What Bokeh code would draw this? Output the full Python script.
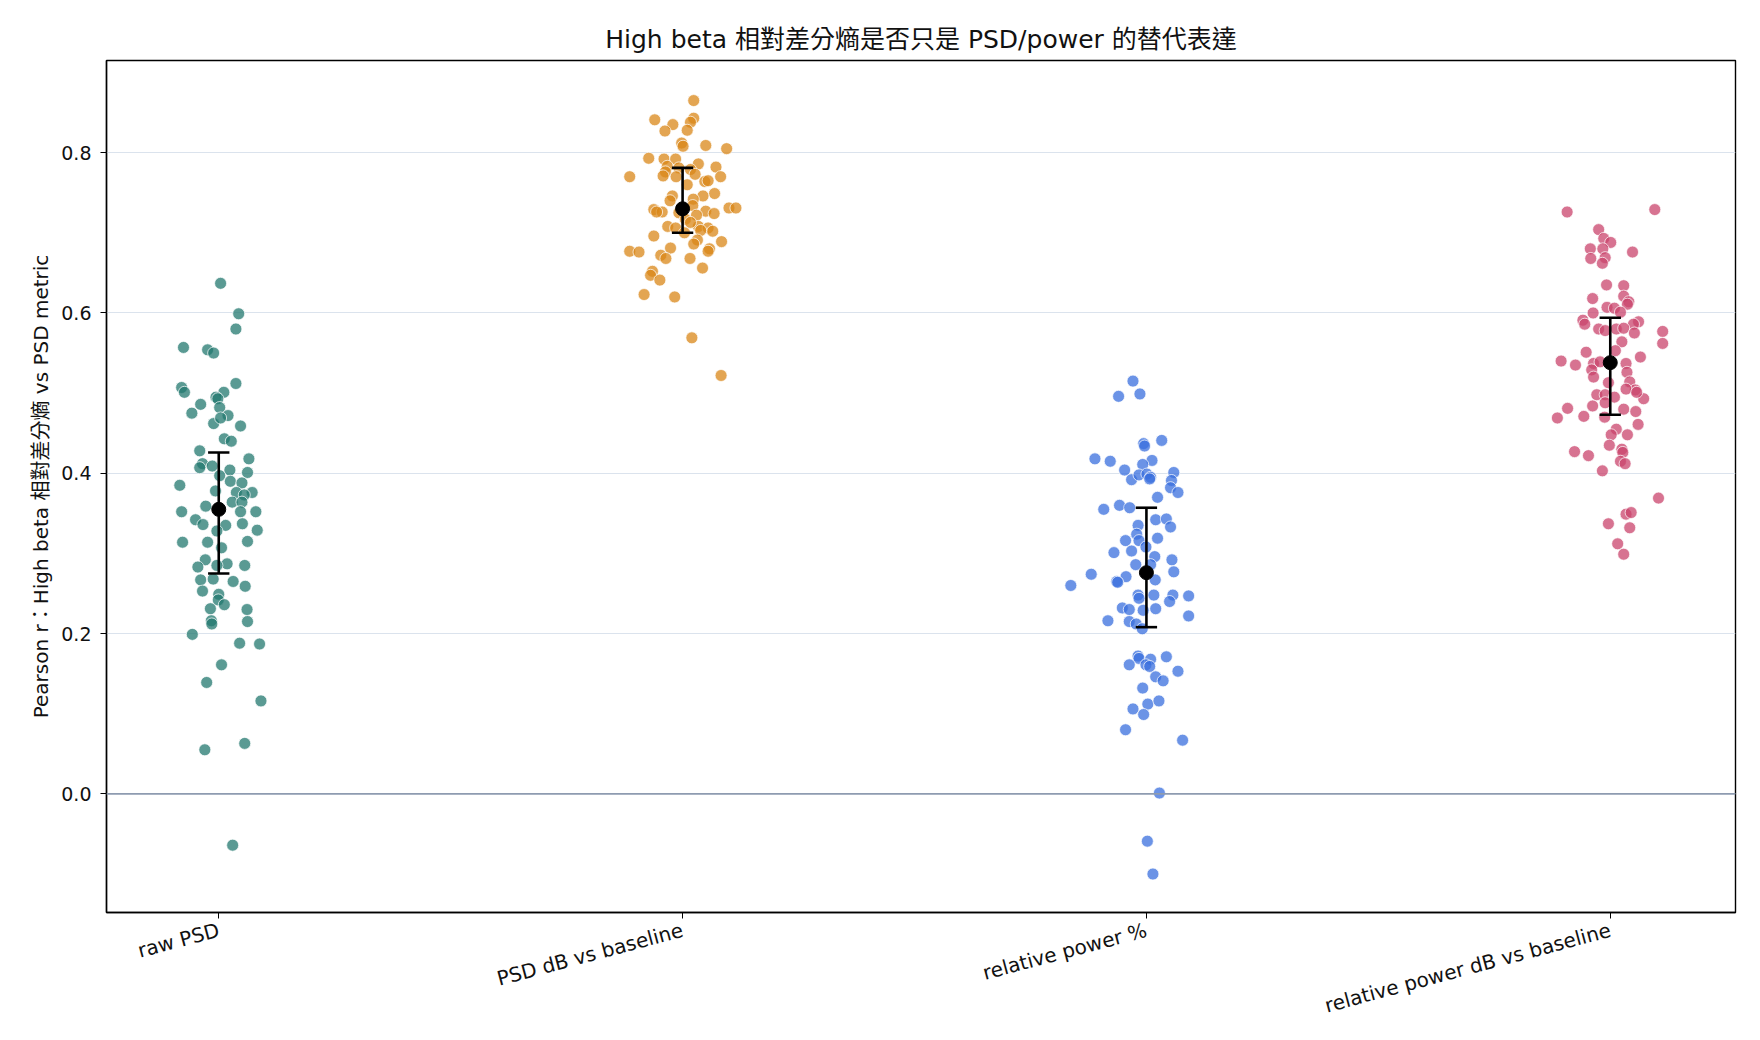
import math
from bokeh.plotting import figure
from bokeh.models import Range1d, FixedTicker, Span, ColumnDataSource, NumeralTickFormatter
from bokeh.embed import file_html
from bokeh.resources import INLINE

categories = ["raw PSD", "PSD dB vs baseline", "relative power %", "relative power dB vs baseline"]
colors = ["#23786f", "#da8718", "#3a6fde", "#ca446c"]

raw_psd_r = [0.637, 0.599, 0.580, 0.557, 0.554, 0.550, 0.512, 0.507, 0.501, 0.501, 0.495, 0.493,
             0.486, 0.482, 0.475, 0.472, 0.462, 0.459, 0.469, 0.443, 0.440, 0.428, 0.418, 0.412,
             0.407, 0.409, 0.401, 0.404, 0.397, 0.385, 0.390, 0.388, 0.376, 0.378, 0.376, 0.373,
             0.364, 0.364, 0.359, 0.352, 0.352, 0.352, 0.342, 0.336, 0.335, 0.337, 0.329, 0.328,
             0.314, 0.314, 0.315, 0.307, 0.292, 0.287, 0.283, 0.285, 0.285, 0.267, 0.268, 0.265,
             0.259, 0.253, 0.249, 0.242, 0.236, 0.231, 0.230, 0.216, 0.215, 0.212, 0.199, 0.188,
             0.187, 0.161, 0.139, 0.116, 0.063, 0.055, -0.064]
raw_psd_jit = [0.004, 0.043, 0.037, -0.076, -0.024, -0.011, 0.037, -0.080, -0.074, 0.011, -0.006, -0.002,
               -0.039, 0.002, -0.058, 0.020, -0.011, 0.047, 0.004, 0.012, 0.027, -0.041, 0.065, -0.035,
               -0.041, -0.014, 0.062, 0.024, 0.002, -0.084, 0.025, 0.050, 0.072, -0.007, 0.038, 0.055,
               0.029, 0.050, -0.028, 0.047, -0.080, 0.080, -0.050, -0.034, 0.015, 0.051, 0.083, -0.004,
               -0.078, -0.024, 0.062, 0.006, -0.029, 0.018, -0.045, 0.056, -0.004, -0.039, -0.012, 0.031,
               0.057, -0.035, 0.000, -0.001, 0.012, -0.018, 0.061, -0.016, 0.062, -0.015, -0.057, 0.045,
               0.088, 0.006, -0.026, 0.091, 0.056, -0.030, 0.030]

psd_db_r = [0.865, 0.841, 0.843, 0.835, 0.838, 0.827, 0.828, 0.812, 0.808, 0.809, 0.805, 0.793,
            0.792, 0.792, 0.786, 0.782, 0.783, 0.781, 0.779, 0.776, 0.770, 0.770, 0.771, 0.770,
            0.773, 0.760, 0.764, 0.765, 0.749, 0.746, 0.746, 0.742, 0.740, 0.729, 0.726, 0.726,
            0.734, 0.731, 0.731, 0.727, 0.724, 0.725, 0.722, 0.717, 0.708, 0.708, 0.706, 0.713,
            0.706, 0.700, 0.702, 0.703, 0.696, 0.691, 0.689, 0.686, 0.681, 0.680, 0.677, 0.676,
            0.677, 0.672, 0.668, 0.668, 0.656, 0.652, 0.647, 0.641, 0.623, 0.620, 0.569, 0.522]
psd_db_jit = [0.024, -0.060, 0.024, -0.021, 0.017, -0.038, 0.010, -0.002, 0.001, 0.050, 0.095, -0.073,
              -0.040, -0.015, 0.034, 0.072, -0.033, -0.008, 0.017, -0.037, -0.114, 0.082, -0.042, -0.014,
              0.027, 0.010, 0.048, 0.055, 0.069, -0.022, 0.044, 0.023, -0.027, -0.062, -0.044, -0.056,
              0.022, 0.100, 0.115, 0.050, 0.068, -0.008, 0.030, 0.006, -0.032, 0.034, 0.055, 0.017,
              -0.015, 0.004, 0.065, 0.039, -0.062, 0.032, 0.084, 0.024, -0.026, 0.058, -0.114, -0.094,
              0.055, -0.047, -0.036, 0.016, 0.043, -0.065, -0.069, -0.049, -0.083, -0.017, 0.020, 0.083]

rel_pow_r = [0.515, 0.496, 0.499, 0.437, 0.434, 0.441, 0.418, 0.415, 0.416, 0.411, 0.404, 0.401,
             0.392, 0.398, 0.399, 0.395, 0.393, 0.391, 0.382, 0.376, 0.370, 0.355, 0.360, 0.357,
             0.342, 0.343, 0.333, 0.335, 0.324, 0.319, 0.316, 0.316, 0.303, 0.308, 0.301, 0.296,
             0.292, 0.286, 0.286, 0.277, 0.274, 0.267, 0.271, 0.260, 0.265, 0.264, 0.248, 0.244,
             0.248, 0.248, 0.247, 0.240, 0.232, 0.230, 0.231, 0.229, 0.222, 0.216, 0.215, 0.212,
             0.206, 0.172, 0.169, 0.168, 0.171, 0.161, 0.161, 0.159, 0.153, 0.146, 0.141, 0.132,
             0.112, 0.116, 0.106, 0.099, 0.080, 0.067, 0.001, -0.059, -0.100]
rel_pow_jit = [-0.029, -0.060, -0.014, -0.006, -0.004, 0.033, -0.111, -0.078, 0.012, -0.008, -0.047, 0.059,
               -0.032, -0.016, 0.001, 0.009, 0.007, 0.054, 0.052, 0.068, 0.024, -0.092, -0.058, -0.036,
               0.020, 0.043, 0.052, -0.018, -0.021, 0.024, -0.045, -0.016, -0.032, -0.001, -0.070, 0.018,
               0.055, -0.023, 0.009, 0.059, -0.119, 0.019, -0.044, -0.163, -0.064, -0.062, -0.018, -0.016,
               0.016, 0.057, 0.091, 0.050, -0.052, -0.037, 0.020, -0.007, 0.091, -0.083, -0.037, -0.022,
               -0.009, -0.018, -0.016, 0.009, 0.043, -0.037, -0.001, 0.007, 0.068, 0.020, 0.036, -0.008,
               0.003, 0.027, -0.029, -0.006, -0.045, 0.078, 0.028, 0.002, 0.014]

rel_db_r = [0.726, 0.729, 0.704, 0.693, 0.688, 0.680, 0.680, 0.676, 0.668, 0.669, 0.662, 0.635,
            0.634, 0.618, 0.621, 0.614, 0.611, 0.607, 0.606, 0.600, 0.601, 0.591, 0.586, 0.589,
            0.586, 0.580, 0.578, 0.580, 0.581, 0.577, 0.575, 0.562, 0.564, 0.553, 0.551, 0.540,
            0.535, 0.545, 0.537, 0.539, 0.537, 0.529, 0.526, 0.520, 0.513, 0.514, 0.504, 0.505,
            0.498, 0.498, 0.493, 0.495, 0.501, 0.481, 0.484, 0.488, 0.469, 0.471, 0.470, 0.480,
            0.477, 0.461, 0.455, 0.448, 0.448, 0.435, 0.430, 0.426, 0.427, 0.422, 0.415, 0.412,
            0.403, 0.369, 0.349, 0.351, 0.337, 0.332, 0.312, 0.299]
rel_db_jit = [-0.093, 0.096, -0.025, -0.014, 0.001, -0.043, -0.016, 0.048, -0.042, -0.011, -0.017, -0.008,
              0.029, -0.038, 0.029, 0.040, 0.037, -0.007, 0.009, -0.037, 0.022, -0.059, -0.055, 0.061,
              0.050, -0.025, -0.011, 0.013, 0.029, 0.113, 0.052, 0.113, 0.025, 0.011, -0.052, -0.106,
              -0.075, 0.065, -0.036, -0.022, 0.034, -0.040, 0.036, -0.036, -0.004, 0.042, 0.054, 0.034,
              -0.029, -0.011, 0.072, 0.009, 0.057, -0.092, -0.038, -0.011, -0.114, -0.057, -0.012, 0.029,
              0.055, 0.060, 0.013, 0.002, 0.037, -0.002, 0.025, 0.027, -0.077, -0.047, 0.022, 0.032,
              -0.017, 0.104, 0.034, 0.045, -0.004, 0.042, 0.016, 0.029]

summary_center = [0.355, 0.730, 0.276, 0.538]
summary_low = [0.275, 0.700, 0.208, 0.473]
summary_high = [0.426, 0.781, 0.357, 0.594]

series_r = [raw_psd_r, psd_db_r, rel_pow_r, rel_db_r]
series_jit = [raw_psd_jit, psd_db_jit, rel_pow_jit, rel_db_jit]

FONT = "'DejaVu Sans', 'Noto Sans CJK TC', sans-serif"

p = figure(width=1760, height=1040, output_backend="svg", toolbar_location=None,
           x_range=Range1d(-0.242, 3.27), y_range=Range1d(-0.148, 0.915),
           title="High beta 相對差分熵是否只是 PSD/power 的替代表達",
           min_border_left=106, min_border_right=25, min_border_top=60, min_border_bottom=128)

p.title.align = "center"
p.title.text_font = FONT
p.title.text_font_size = "25px"
p.title.text_font_style = "normal"
p.title.text_color = "#111111"
p.title.standoff = 14

p.outline_line_color = "black"
p.outline_line_alpha = 1
p.outline_line_width = 1.4

p.xgrid.visible = False
p.ygrid.grid_line_color = "#dbe3ed"
p.ygrid.grid_line_width = 1.2
p.ygrid.ticker = FixedTicker(ticks=[0.0, 0.2, 0.4, 0.6, 0.8])

p.xaxis.ticker = FixedTicker(ticks=[0, 1, 2, 3])
p.xaxis.major_label_overrides = {i: c for i, c in enumerate(categories)}
p.xaxis.major_label_orientation = math.radians(15)
p.xaxis.major_label_standoff = 11
p.yaxis.ticker = FixedTicker(ticks=[0.0, 0.2, 0.4, 0.6, 0.8])
p.yaxis.formatter = NumeralTickFormatter(format="0.0")
p.yaxis.major_label_standoff = 9
p.yaxis.axis_label = "Pearson r：High beta 相對差分熵 vs PSD metric"

for ax in [p.xaxis[0], p.yaxis[0]]:
    ax.axis_line_color = "black"
    ax.axis_line_width = 1.4
    ax.major_tick_line_color = "black"
    ax.major_tick_out = 6
    ax.major_tick_in = 0
    ax.minor_tick_line_color = None
    ax.major_label_text_font = FONT
    ax.major_label_text_color = "#111111"
    ax.axis_label_text_font = FONT
    ax.axis_label_text_font_size = "20px"
    ax.axis_label_text_font_style = "normal"
    ax.axis_label_text_color = "#111111"
p.xaxis.major_label_text_font_size = "20px"
p.yaxis.major_label_text_font_size = "19px"

p.add_layout(Span(location=0, dimension="width", line_color="#8e9bb0", line_width=1.6))

for i, (vals, jit) in enumerate(zip(series_r, series_jit)):
    xs = [i + j for j in jit]
    p.scatter(xs, vals, size=12, fill_color=colors[i], fill_alpha=0.75,
              line_color="white", line_width=0.8, line_alpha=0.9)

xpos = list(range(len(categories)))
cap = 0.023
src = ColumnDataSource(dict(x=xpos, x0=[x - cap for x in xpos], x1=[x + cap for x in xpos],
                            lo=summary_low, hi=summary_high, c=summary_center))
p.segment(x0="x", y0="lo", x1="x", y1="hi", source=src, line_color="black", line_width=2.6)
p.segment(x0="x0", y0="lo", x1="x1", y1="lo", source=src, line_color="black", line_width=2.6)
p.segment(x0="x0", y0="hi", x1="x1", y1="hi", source=src, line_color="black", line_width=2.6)
p.scatter("x", "c", source=src, size=14, fill_color="black", line_color="black")

open("out.html", "w").write(file_html(p, INLINE))
